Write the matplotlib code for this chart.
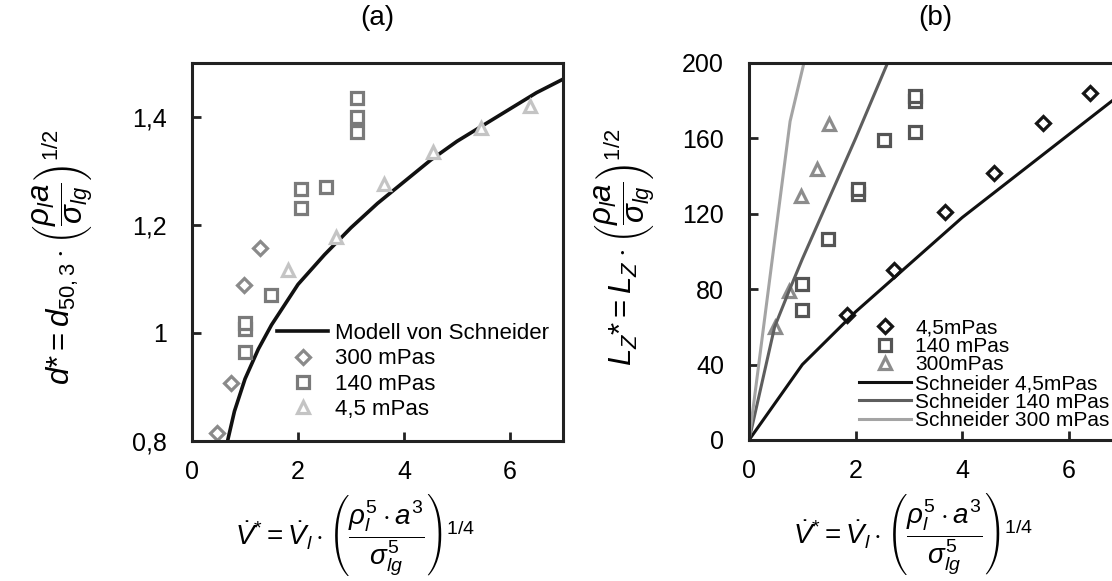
import matplotlib.pyplot as plt
from matplotlib.ticker import FuncFormatter

plt.rcParams['font.family'] = ['Liberation Sans', 'DejaVu Sans']
plt.rcParams['mathtext.fontset'] = 'custom'
plt.rcParams['mathtext.rm'] = 'Liberation Sans'
plt.rcParams['mathtext.it'] = 'Liberation Sans:italic'
plt.rcParams['mathtext.bf'] = 'Liberation Sans:bold'

# (a) dimensionless droplet diameter vs. dimensionless flow rate
model_v = [0.67, 0.8, 1.0, 1.25, 1.5, 2.0, 2.5, 3.0, 3.5, 4.0, 4.5, 5.0, 5.5, 6.0, 6.5, 7.0]
model_d = [0.80, 0.855, 0.915, 0.97, 1.015, 1.09, 1.145, 1.195, 1.24, 1.28, 1.32, 1.355, 1.385, 1.415, 1.445, 1.47]
d300_v = [0.48, 0.74, 0.98, 1.28]
d300_d = [0.815, 0.908, 1.088, 1.157]
d140_v = [0.99, 1.0, 1.0, 1.49, 2.05, 2.05, 2.53, 3.11, 3.11, 3.11]
d140_d = [0.965, 1.007, 1.019, 1.070, 1.232, 1.267, 1.271, 1.372, 1.400, 1.435]
d45_v = [1.81, 2.72, 3.62, 4.55, 5.46, 6.38]
d45_d = [1.117, 1.178, 1.276, 1.336, 1.380, 1.420]

# (b) dimensionless jet length vs. dimensionless flow rate
l45_v = [1.83, 2.73, 3.67, 4.59, 5.51, 6.40]
l45_l = [66.2, 90.3, 120.9, 141.9, 168.1, 184.1]
l140_v = [1.0, 1.0, 1.48, 2.05, 2.05, 2.53, 3.11, 3.11, 3.11]
l140_l = [68.7, 82.8, 106.7, 130.4, 133.3, 159.3, 163.2, 179.6, 182.3]
l300_v = [0.48, 0.75, 0.97, 1.27, 1.51]
l300_l = [59.8, 78.8, 129.2, 143.7, 167.8]
s45_v = [0, 1, 2, 3, 4, 5, 6, 7]
s45_l = [0, 40, 68, 93, 118, 140, 162, 184]
s140_v = [0, 0.48, 0.75, 1.0, 1.5, 2.0, 2.6]
s140_l = [0, 60, 79, 96, 128, 160, 200]
s300_v = [0, 0.5, 0.77, 1.03]
s300_l = [0, 110, 169, 200]

xticks = [0, 2, 4, 6]
yticks_a = [0.8, 1.0, 1.2, 1.4]
yticks_b = [0, 40, 80, 120, 160, 200]

xlabel = r'$\dot{V}^{*} = \dot{V}_l\cdot\left(\dfrac{\rho_l^5\cdot a^3}{\sigma_{lg}^5}\right)^{1/4}$'
ylabel_a = r'$d{*} = d_{50,3}\cdot\left(\dfrac{\rho_l a}{\sigma_{lg}}\right)^{1/2}$'
ylabel_b = r'$L_Z{*} = L_Z\cdot\left(\dfrac{\rho_l a}{\sigma_{lg}}\right)^{1/2}$'

comma = FuncFormatter(lambda v, pos: '{:g}'.format(v).replace('.', ','))


def style_axes(ax):
    for sp in ax.spines.values():
        sp.set_linewidth(2.2)
        sp.set_color('#222222')
    ax.tick_params(direction='in', length=6.5, width=2, labelsize=18, pad=18,
                   color='#222222')
    ax.tick_params(axis='x', pad=14)
    ax.set_xlim(0, 7)
    ax.set_xticks(xticks)
    ax.yaxis.set_major_formatter(comma)


fig = plt.figure(figsize=(11.12, 5.81), dpi=100)
ax1 = fig.add_axes([0.1727, 0.241, 0.3336, 0.6506])
ax2 = fig.add_axes([0.6736, 0.2427, 0.3354, 0.6489])

mk = dict(linestyle='none', markersize=9, markeredgewidth=2.3, markerfacecolor='white')
mk_d = dict(mk, markersize=7.5)

# panel (a)
ax1.plot(model_v, model_d, color='#111111', lw=2.6, label='Modell von Schneider')
ax1.plot(d300_v, d300_d, marker='D', color='#8a8a8a', label='300 mPas', **mk_d)
ax1.plot(d140_v, d140_d, marker='s', color='#7a7a7a', label='140 mPas', **mk)
ax1.plot(d45_v, d45_d, marker='^', color='#c4c4c4', label='4,5 mPas', **mk)
style_axes(ax1)
ax1.set_ylim(0.8, 1.5)
ax1.set_yticks(yticks_a)
ax1.legend(loc='lower left', bbox_to_anchor=(0.23, 0.055), frameon=False, fontsize=16,
           borderpad=0, borderaxespad=0, handlelength=2.3, handletextpad=0.3,
           labelspacing=0.2)

# panel (b)
ax2.plot(l45_v, l45_l, marker='D', color='#151515', label='4,5mPas', **mk_d)
ax2.plot(l140_v, l140_l, marker='s', color='#555555', label='140 mPas', **mk)
ax2.plot(l300_v, l300_l, marker='^', color='#8c8c8c', label='300mPas', **mk)
ax2.plot(s45_v, s45_l, color='#111111', lw=2.2, label='Schneider 4,5mPas')
ax2.plot(s140_v, s140_l, color='#5e5e5e', lw=2.2, label='Schneider 140 mPas')
ax2.plot(s300_v, s300_l, color='#a4a4a4', lw=2.2, label='Schneider 300 mPas')
style_axes(ax2)
ax2.set_ylim(0, 200)
ax2.set_yticks(yticks_b)
ax2.legend(loc='lower left', bbox_to_anchor=(0.295, 0.026), frameon=False, fontsize=15,
           borderpad=0, borderaxespad=0, handlelength=2.5, handletextpad=0.2,
           labelspacing=-0.02)

for ax, title in [(ax1, '(a)'), (ax2, '(b)')]:
    ax.text(0.5, 1.12, title, transform=ax.transAxes, ha='center', va='center', fontsize=20)
    ax.text(0.44, -0.25, xlabel, transform=ax.transAxes, ha='center', va='center', fontsize=20)

ax1.text(-0.35, 0.487, ylabel_a, transform=ax1.transAxes, ha='center', va='center',
         rotation=90, fontsize=22.5)
ax2.text(-0.335, 0.512, ylabel_b, transform=ax2.transAxes, ha='center', va='center',
         rotation=90, fontsize=22.5)

fig.savefig('out.png', dpi=100)
